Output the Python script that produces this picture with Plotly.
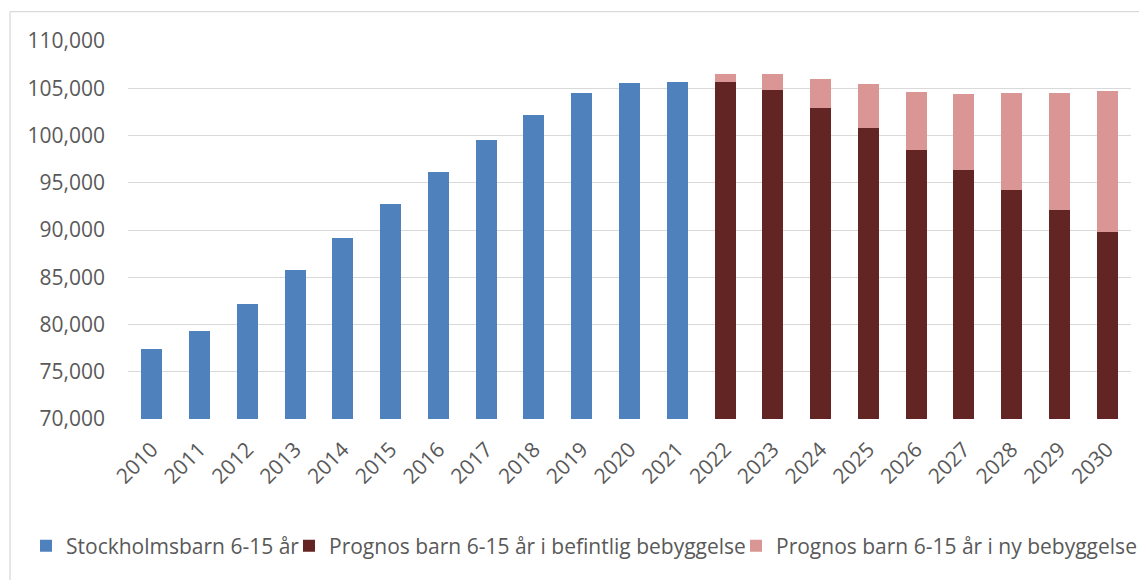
import plotly.graph_objects as go

years = [str(y) for y in range(2010, 2031)]
hist_years = years[:12]
prog_years = years[12:]

stockholm_children = [77400, 79300, 82150, 85750, 89170, 92760, 96140, 99490,
                      102170, 104530, 105590, 105650]
prognos_existing = [105670, 104780, 102900, 100830, 98430, 96350, 94280, 92090, 89800]
prognos_new = [800, 1720, 3110, 4580, 6210, 8080, 10180, 12440, 14900]

y_ticks = list(range(70000, 110001, 5000))
y_ticktext = [f"{v:,}" for v in y_ticks]

names = ["Stockholmsbarn 6-15 år",
         "Prognos barn 6-15 år i befintlig bebyggelse",
         "Prognos barn 6-15 år i ny bebyggelse"]
colors = ["#4F81BD", "#632523", "#D99694"]

fig = go.Figure()
fig.add_trace(go.Bar(x=hist_years, y=stockholm_children, name=names[0], legend="legend",
                     marker=dict(color=colors[0], line=dict(width=0))))
fig.add_trace(go.Bar(x=prog_years, y=prognos_existing, name=names[1], legend="legend2",
                     marker=dict(color=colors[1], line=dict(width=0))))
fig.add_trace(go.Bar(x=prog_years, y=prognos_new, name=names[2], legend="legend3",
                     marker=dict(color=colors[2], line=dict(width=0))))

font_family = "Open Sans, DejaVu Sans, sans-serif"
grid = "#D9D9D9"
W, H = 1139, 572


def leg(xpx):
    return dict(orientation="h", xref="container", yref="container",
                x=xpx / W, xanchor="left", y=1 - 538 / H, yanchor="middle",
                font=dict(size=21, color="#595959"), itemwidth=30,
                bgcolor="rgba(0,0,0,0)")


fig.update_layout(
    width=W, height=H,
    barmode="stack",
    bargap=0.56,
    paper_bgcolor="white", plot_bgcolor="white",
    margin=dict(l=120, r=16, t=33, b=161, autoexpand=False),
    font=dict(family=font_family, size=20, color="#595959"),
    showlegend=True,
    legend=leg(18),
    legend2=leg(281),
    legend3=leg(728),
    xaxis=dict(type="category", categoryorder="array", categoryarray=years,
               tickangle=-45, showgrid=False, showline=False, ticks="",
               ticklabelstandoff=13,
               tickfont=dict(size=21, color="#595959")),
    yaxis=dict(range=[70000, 110000], tickvals=y_ticks, ticktext=y_ticktext,
               showgrid=True, gridcolor=grid, gridwidth=1.3, zeroline=False,
               showline=False, ticks="", ticklabelstandoff=22,
               tickfont=dict(size=21, color="#595959")),
    shapes=[
        dict(type="line", xref="paper", yref="paper", x0=-0.1176, x1=-0.1176,
             y0=1.0775, y1=-0.6, line=dict(color=grid, width=1.3)),
        dict(type="line", xref="paper", yref="paper", x0=-0.1176, x1=1.1,
             y0=1.0775, y1=1.0775, line=dict(color=grid, width=1.3)),
    ],
)

fig.write_html("out.html")
